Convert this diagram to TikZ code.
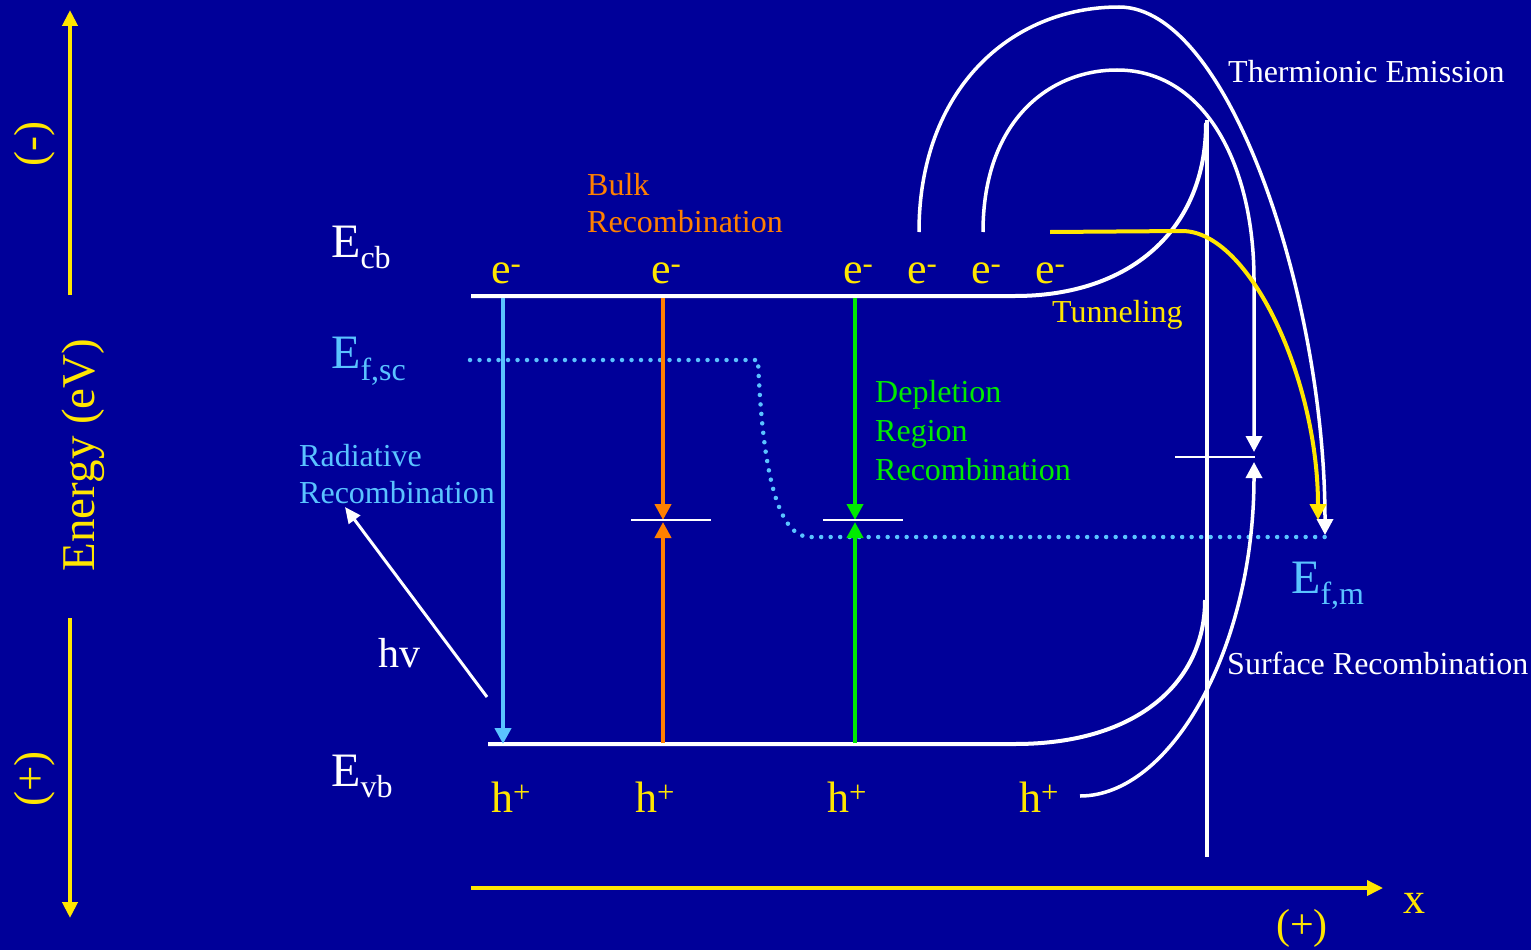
\documentclass[tikz,border=0pt]{standalone}
\usepackage{fontspec}
\setmainfont{Liberation Serif}
\usetikzlibrary{arrows.meta}
\definecolor{bg}{RGB}{0,0,153}
\definecolor{ylw}{RGB}{255,230,0}
\definecolor{org}{RGB}{255,128,0}
\definecolor{grn}{RGB}{0,235,0}
\definecolor{lblue}{RGB}{90,195,255}
\begin{document}
\begin{tikzpicture}[x=1pt,y=-1pt,
  txt/.style={inner sep=0pt, anchor=base west},
  fs/.style={font=\fontsize{32}{38}\selectfont},
  fm/.style={font=\fontsize{44}{50}\selectfont},
  fl/.style={font=\fontsize{48}{54}\selectfont},
  band/.style={white, line width=4pt},
  tipbig/.style={-{Triangle[width=16pt,length=16pt]}},
  tipmid/.style={-{Triangle[width=15pt,length=16pt]}},
  trap/.style={white, line width=2.5pt},
  orbit/.style={white, line width=3.5pt, tipbig},
  recarrow/.style={line width=4pt, tipbig},
  fermi/.style={lblue, line width=4.5pt, line cap=round, dash pattern=on 0pt off 9.5pt}
]
\fill[bg] (0,0) rectangle (1531,950);
\useasboundingbox (0,0) rectangle (1531,950);

% named coordinates
\coordinate (cbL) at (471,296);
\coordinate (cbR) at (1015,296);
\coordinate (cbTop) at (1206,123);
\coordinate (vbL) at (488,744);
\coordinate (vbR) at (1015,744);
\coordinate (vbTop) at (1205,600);
\coordinate (ifTop) at (1207,120);
\coordinate (ifBot) at (1207,857);

% energy axis
\coordinate (eaTopS) at (70,295);
\coordinate (eaTop) at (70,10);
\coordinate (eaBotS) at (70,618);
\coordinate (eaBot) at (70,918);
\draw[ylw, line width=4pt, tipmid] (eaTopS) -- (eaTop);
\draw[ylw, line width=4pt, tipmid] (eaBotS) -- (eaBot);
\node[ylw, rotate=90, inner sep=0pt, font=\fontsize{45}{50}\selectfont] (minus) at (35,144) {(-)};
\node[ylw, rotate=90, inner sep=0pt, font=\fontsize{45}{50}\selectfont] (plus) at (35,779) {(+)};
\node[ylw, rotate=90, inner sep=0pt, font=\fontsize{47}{52}\selectfont] (energy) at (83,455) {Energy (eV)};

% x axis
\coordinate (xaL) at (471,888);
\coordinate (xaR) at (1383,888);
\draw[ylw, line width=3.5pt, tipmid] (xaL) -- (xaR);
\node[txt, ylw, font=\fontsize{44}{50}\selectfont] (xlab) at (1403,913) {x};
\node[txt, ylw, font=\fontsize{42}{48}\selectfont] (xplus) at (1276,938) {(+)};

% Fermi level
\coordinate (fsL) at (470,360);
\coordinate (fsK) at (758,360);
\coordinate (fsB) at (810,537);
\coordinate (fmR) at (1333,537);
\draw[fermi] (fsL) -- (fsK) .. controls (762,460) and (775,537) .. (fsB) -- (fmR);

% bands
\draw[band] (cbL) -- (cbR) .. controls (1130,296) and (1206,230) .. (cbTop);
\draw[band] (vbL) -- (vbR) .. controls (1140,744) and (1205,680) .. (vbTop);
\draw[white, line width=4pt] (ifTop) -- (ifBot);

% radiative recombination
\coordinate (radT) at (503,298);
\coordinate (radB) at (503,744);
\draw[lblue, recarrow] (radT) -- (radB);
\coordinate (hvS) at (487,697);
\coordinate (hvE) at (345,507);
\draw[white, line width=3pt, -{Triangle[width=14pt,length=16pt]}] (hvS) -- (hvE);

% bulk recombination
\coordinate (bT) at (663,298);
\coordinate (bM) at (663,520);
\coordinate (bM2) at (663,522);
\coordinate (bB) at (663,743);
\draw[org, recarrow] (bT) -- (bM);
\draw[org, recarrow] (bB) -- (bM2);
\draw[trap] (631,520) -- (711,520);

% depletion recombination
\coordinate (dT) at (855,298);
\coordinate (dM) at (855,520);
\coordinate (dM2) at (855,522);
\coordinate (dB) at (855,743);
\draw[grn, recarrow] (dT) -- (dM);
\draw[grn, recarrow] (dB) -- (dM2);
\draw[trap] (823,520) -- (903,520);

% thermionic emission
\coordinate (th1S) at (919,232);
\coordinate (th1P) at (1119,7);
\coordinate (th1E) at (1325,535);
\draw[orbit] (th1S) .. controls (919,90) and (1010,7) .. (th1P) .. controls (1230,7) and (1325,300) .. (th1E);
\coordinate (th2S) at (983,232);
\coordinate (th2P) at (1117,70);
\coordinate (th2V) at (1254,280);
\coordinate (th2E) at (1254,452);
\draw[orbit] (th2S) .. controls (983,120) and (1050,70) .. (th2P) .. controls (1205,70) and (1254,165) .. (th2V) -- (th2E);

% tunneling
\coordinate (tuS) at (1050,232);
\coordinate (tuK) at (1182,231);
\coordinate (tuE) at (1318,520);
\draw[ylw, line width=4pt, tipbig] (tuS) -- (tuK) .. controls (1250,231) and (1318,380) .. (tuE);

% surface recombination
\coordinate (srS) at (1080,796);
\coordinate (srE) at (1254,462);
\draw[orbit] (srS) .. controls (1170,796) and (1254,650) .. (srE);
\draw[trap] (1175,457) -- (1255,457);

% level labels
\node[txt, white, fl] (Ecb) at (331,257) {E\raisebox{-11pt}{\fontsize{32}{34}\selectfont cb}};
\node[txt, lblue, fl] (Efsc) at (331,368) {E\raisebox{-12pt}{\fontsize{32}{34}\selectfont f,sc}};
\node[txt, white, fl] (Evb) at (331,786) {E\raisebox{-11pt}{\fontsize{32}{34}\selectfont vb}};
\node[txt, lblue, fl] (Efm) at (1291,593) {E\raisebox{-11pt}{\fontsize{32}{34}\selectfont f,m}};

% carriers
\foreach \xx/\nm in {491/e1,651/e2,843/e3,907/e4,971/e5,1035/e6}
  \node[txt, ylw, fm] (\nm) at (\xx,283) {e\textsuperscript{-}};
\foreach \xx/\nm in {491/h1,635/h2,827/h3,1019/h4}
  \node[txt, ylw, fm] (\nm) at (\xx,812) {h\textsuperscript{+}};

% process labels
\node[txt, org, fs] (bulkA) at (587,195) {Bulk};
\node[txt, org, fs] (bulkB) at (587,232) {Recombination};
\node[txt, lblue, fs] (radA) at (299,466) {Radiative};
\node[txt, lblue, fs] (radB2) at (299,503) {Recombination};
\node[txt, white, font=\fontsize{42}{48}\selectfont] (hv) at (378,667) {hv};
\node[txt, grn, fs] (depA) at (875,402) {Depletion};
\node[txt, grn, fs] (depB) at (875,441) {Region};
\node[txt, grn, fs] (depC) at (875,480) {Recombination};
\node[txt, white, fs] (therm) at (1228,82) {Thermionic Emission};
\node[txt, ylw, fs] (tunn) at (1052,322) {Tunneling};
\node[txt, white, fs] (surf) at (1227,674) {Surface Recombination};
\end{tikzpicture}
\end{document}
